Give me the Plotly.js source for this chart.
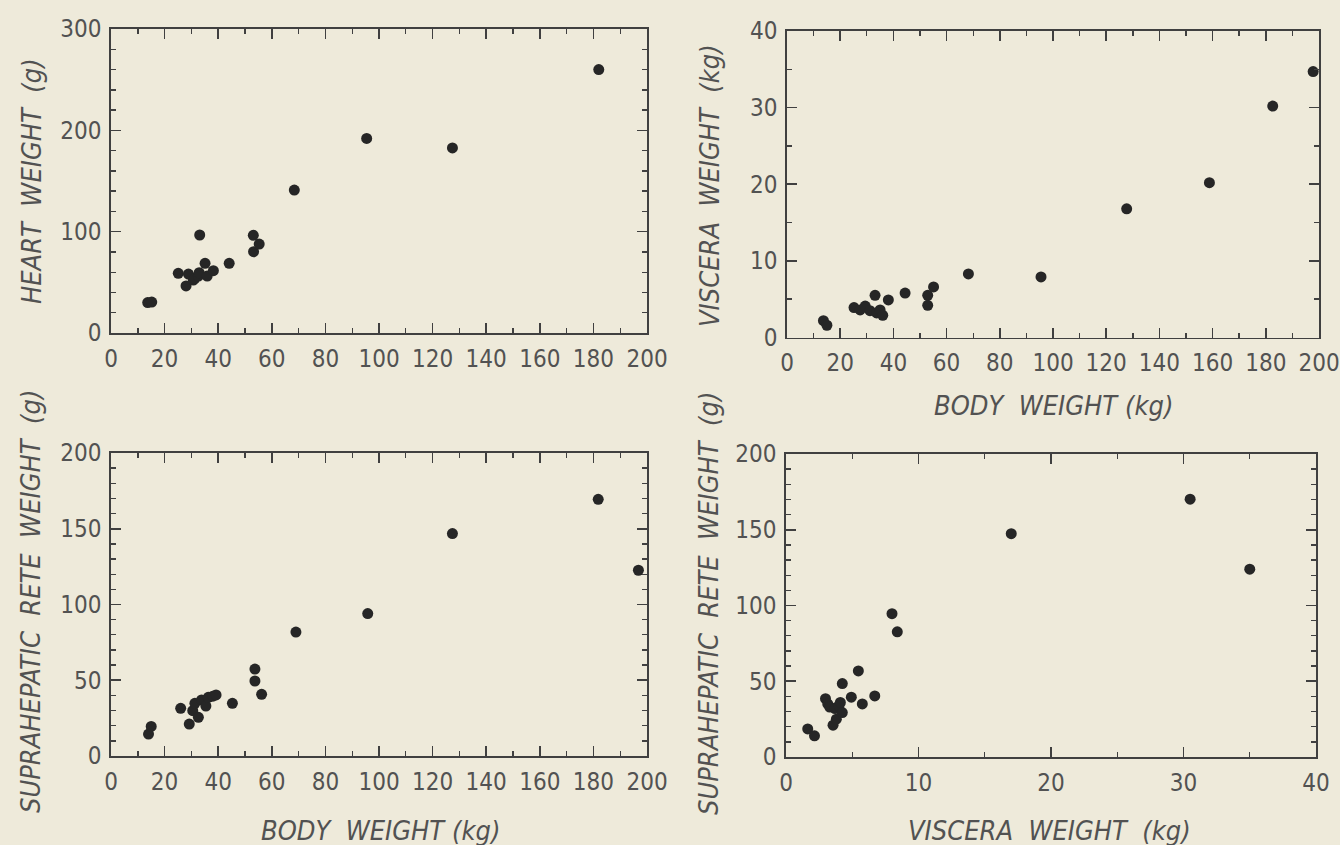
<!DOCTYPE html>
<html>
<head>
<meta charset="utf-8">
<script src="https://cdn.plot.ly/plotly-3.0.1.min.js"></script>
<style>html,body{margin:0;padding:0;background:#EEEADA;}</style>
</head>
<body>
<div id="chart" style="width:1340px;height:845px;"></div>
<script>
// Panel 1: heart weight (g) vs body weight (kg)
const bodyHeart = [13.7, 15.2, 25.1, 28.0, 28.9, 30.7, 31.3, 32.6, 32.9, 33.1, 35.1, 35.9, 38.2, 44.1, 53.1, 53.2, 55.3, 68.4, 95.4, 127.4, 182.0];
const heart     = [30.0, 30.5, 58.9, 46.4, 58.2, 52.3, 54.0, 56.2, 59.5, 96.7, 68.8, 56.2, 61.5, 68.8, 96.4, 80.2, 87.8, 141, 192, 182.6, 260];

// Panel 2: viscera weight (kg) vs body weight (kg)
const bodyViscera = [13.7, 15.0, 25.2, 27.5, 29.4, 31.2, 33.1, 33.7, 35.0, 36.0, 38.1, 44.4, 52.9, 52.9, 55.1, 68.2, 95.5, 127.7, 158.8, 182.6, 197.8];
const viscera     = [2.2, 1.6, 3.9, 3.6, 4.1, 3.5, 5.5, 3.2, 3.6, 2.9, 4.9, 5.8, 5.5, 4.2, 6.6, 8.3, 7.9, 16.8, 20.2, 30.2, 34.7];

// Panel 3: suprahepatic rete weight (g) vs body weight (kg)
const bodyRete = [14.0, 15.0, 26.0, 29.2, 30.5, 31.3, 32.6, 33.8, 35.4, 36.3, 38.0, 39.2, 45.3, 53.7, 53.7, 56.2, 69.0, 95.8, 127.4, 181.8, 196.8];
const rete     = [14.5, 19.5, 31.5, 21.1, 29.9, 34.8, 25.5, 37.0, 33.0, 38.7, 39.5, 40.3, 34.8, 57.4, 49.5, 40.7, 81.8, 94.0, 146.8, 169.4, 122.6];

// Panel 4: suprahepatic rete weight (g) vs viscera weight (kg)
const visceraRete = [1.64, 2.15, 2.98, 3.15, 3.3, 3.55, 3.8, 3.7, 4.0, 4.25, 4.1, 4.25, 4.93, 5.46, 5.76, 6.7, 8.0, 8.4, 17.0, 30.5, 35.0];
const reteV       = [18.5, 14.0, 38.5, 35.0, 33.0, 21.0, 25.0, 32.0, 34.0, 29.3, 36.0, 48.5, 39.5, 56.8, 35.0, 40.3, 94.6, 82.6, 147.4, 170.2, 124.0];

const xTickVals200 = [0, 20, 40, 60, 80, 100, 120, 140, 160, 180, 200];
const xTickVals40 = [0, 10, 20, 30, 40];
const yTickVals300 = [0, 100, 200, 300];
const yTickVals40 = [0, 10, 20, 30, 40];
const yTickVals200 = [0, 50, 100, 150, 200];

const SP = '\u00A0\u00A0';
const titleHeart = 'HEART' + SP + 'WEIGHT' + SP + '(g)';
const titleViscera = 'VISCERA' + SP + 'WEIGHT' + SP + '(kg)';
const titleRete = 'SUPRAHEPATIC' + SP + 'RETE' + SP + 'WEIGHT' + SP + '(g)';
const titleBody = 'BODY' + SP + 'WEIGHT\u00A0(kg)';
const titleVisceraX = 'VISCERA' + SP + 'WEIGHT' + SP + '(kg)';

const BG = '#EEEADA';
const INK = '#404040';
const TXT = '#525252';
const FONT = '"DejaVu Sans Condensed", "Liberation Sans Narrow", sans-serif';

function axis(domain, range, tickvals, minorDtick, extra) {
  return Object.assign({
    domain: domain, range: range, tickmode: 'array', tickvals: tickvals,
    showgrid: false, zeroline: false, showline: true, linecolor: INK, linewidth: 1.7,
    mirror: 'ticks', ticks: 'inside', ticklen: 10, tickwidth: 1.6, tickcolor: INK,
    minor: {dtick: minorDtick, ticks: 'inside', ticklen: 5, tickwidth: 1.4, tickcolor: INK, showgrid: false},
    tickfont: {family: FONT, size: 24, color: TXT},
    fixedrange: true
  }, extra || {});
}

const marker = {color: '#262626', size: 11, line: {width: 0}};
const traces = [
  {x: bodyHeart, y: heart, xaxis: 'x', yaxis: 'y', type: 'scatter', mode: 'markers', marker: marker, cliponaxis: false},
  {x: bodyViscera, y: viscera, xaxis: 'x2', yaxis: 'y2', type: 'scatter', mode: 'markers', marker: marker, cliponaxis: false},
  {x: bodyRete, y: rete, xaxis: 'x3', yaxis: 'y3', type: 'scatter', mode: 'markers', marker: marker, cliponaxis: false},
  {x: visceraRete, y: reteV, xaxis: 'x4', yaxis: 'y4', type: 'scatter', mode: 'markers', marker: marker, cliponaxis: false}
];

function px(x) { return x / 1340; }
function py(y) { return 1 - y / 845; }

const titleFont = {family: FONT, size: 27, color: TXT};
function ann(text, x, y, angle) {
  return {text: '<i>' + text + '</i>', xref: 'paper', yref: 'paper', x: px(x), y: py(y),
          xanchor: 'center', yanchor: 'middle', showarrow: false, textangle: angle, font: titleFont};
}

const layout = {
  width: 1340, height: 845,
  margin: {l: 0, r: 0, t: 0, b: 0},
  paper_bgcolor: BG, plot_bgcolor: BG,
  showlegend: false,
  xaxis:  axis([px(111), px(647)], [0, 200], xTickVals200, 10, {anchor: 'y', ticklabelstandoff: 3}),
  yaxis:  axis([py(333), py(29)], [0, 300], yTickVals300, 20, {anchor: 'x', ticklabelstandoff: 3}),
  xaxis2: axis([px(787), px(1319)], [0, 200], xTickVals200, 10, {anchor: 'y2', ticklabelstandoff: 3}),
  yaxis2: axis([py(337.5), py(31)], [0, 40], yTickVals40, 5, {anchor: 'x2', ticklabelstandoff: 3}),
  xaxis3: axis([px(111), px(647)], [0, 200], xTickVals200, 10, {anchor: 'y3', ticklabelstandoff: 3}),
  yaxis3: axis([py(756), py(453)], [0, 200], yTickVals200, 10, {anchor: 'x3', ticklabelstandoff: 3}),
  xaxis4: axis([px(786), px(1316)], [0, 40], xTickVals40, 5, {anchor: 'y4', ticklabelstandoff: 3}),
  yaxis4: axis([py(757), py(454)], [0, 200], yTickVals200, 10, {anchor: 'x4', ticklabelstandoff: 3}),
  annotations: [
    ann(titleHeart, 32, 181, -90),
    ann(titleViscera, 710, 186, -90),
    ann(titleRete, 30, 602, -90),
    ann(titleRete, 708, 604, -90),
    ann(titleBody, 1053, 405, 0),
    ann(titleBody, 380, 830, 0),
    ann(titleVisceraX, 1049, 830, 0)
  ]
};

Plotly.newPlot('chart', traces, layout, {displayModeBar: false, staticPlot: true});
</script>
</body>
</html>
